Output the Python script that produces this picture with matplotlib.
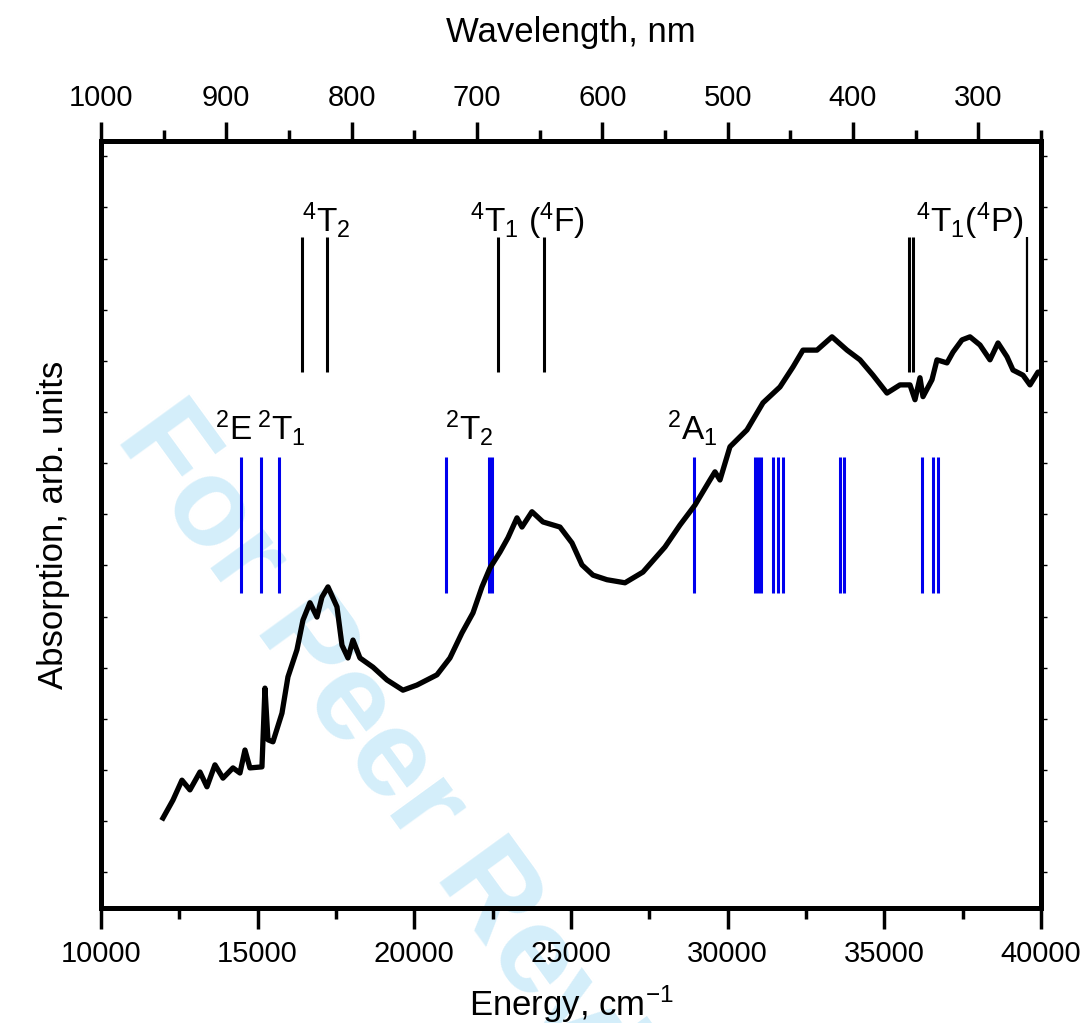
import numpy as np
from matplotlib import pyplot as plt

plt.rcParams['font.family'] = ['Liberation Sans', 'DejaVu Sans']
plt.rcParams['mathtext.default'] = 'regular'

# absorption spectrum (energy in cm^-1, arb. units)
energy = [11980, 12298, 12585, 12840, 13160, 13383, 13638, 13894, 14213, 14436,
          14596, 14755, 15138, 15234, 15330, 15489, 15777, 15968, 16255, 16447,
          16670, 16894, 17053, 17245, 17532, 17692, 17883, 18043, 18266, 18681,
          19128, 19638, 20085, 20723, 21138, 21521, 21872, 22160, 22415, 22734,
          22989, 23277, 23436, 23755, 24106, 24649, 25032, 25351, 25702, 26149,
          26723, 27298, 28000, 28479, 28958, 29436, 29596, 29755, 30074, 30617,
          31128, 31670, 32085, 32404, 32851, 33330, 33809, 34223, 34638, 35085,
          35500, 35819, 35979, 36138, 36234, 36521, 36681, 37000, 37191, 37479,
          37734, 38053, 38372, 38628, 38915, 39106, 39426, 39649, 39904, 40000]
absorb = [1.06, 1.41, 1.80, 1.61, 1.96, 1.67, 2.10, 1.84, 2.04, 1.94,
          2.39, 2.04, 2.06, 3.60, 2.59, 2.55, 3.11, 3.82, 4.35, 4.93,
          5.27, 4.99, 5.38, 5.58, 5.19, 4.44, 4.19, 4.54, 4.19, 4.01,
          3.76, 3.56, 3.66, 3.86, 4.19, 4.68, 5.07, 5.58, 5.95, 6.26,
          6.54, 6.93, 6.75, 7.05, 6.85, 6.75, 6.44, 6.01, 5.81, 5.72,
          5.66, 5.87, 6.36, 6.79, 7.18, 7.67, 7.83, 7.67, 8.32, 8.65,
          9.18, 9.49, 9.88, 10.21, 10.21, 10.47, 10.21, 10.02, 9.72, 9.37,
          9.53, 9.53, 9.24, 9.67, 9.30, 9.63, 10.02, 9.96, 10.17, 10.41,
          10.47, 10.31, 10.02, 10.35, 10.08, 9.82, 9.72, 9.53, 9.78, 9.78]

# calculated quartet levels (black) and doublet levels (blue), cm^-1
quartet_lines = [16415, 17213, 22670, 24138, 35800, 35910]
quartet_thin = [39550]
doublet_lines = [14468, 15106, 15681, 21011, 22383, 22479, 28926, 30873,
                 30968, 31064, 31447, 31607, 31766, 33585, 33713, 36202,
                 36553, 36713]

quartet_labels = [r'$^4$T$_2$', r'$^4$T$_1$ ($^4$F)', r'$^4$T$_1$($^4$P)']
quartet_label_x = [16415, 21777, 36011]
doublet_labels = [r'$^2$E', r'$^2$T$_1$', r'$^2$T$_2$', r'$^2$A$_1$']
doublet_label_x = [13638, 14979, 20979, 28064]

wl_major = [1000, 900, 800, 700, 600, 500, 400, 300]
wl_minor = [950, 850, 750, 650, 550, 450, 350, 250]

fig = plt.figure(figsize=(10.82, 10.23), dpi=100)
ax = fig.add_axes([0.0933, 0.1124, 0.8688, 0.7498])
ax.patch.set_visible(False)

# watermark behind everything
fig.text(0.106, 0.572, 'For Peer Review', rotation=-54, rotation_mode='anchor',
         ha='left', va='baseline', fontsize=90, fontweight='bold',
         color='#d4eefa', zorder=-5)

ax.plot(energy, absorb, color='black', lw=3.8, solid_joinstyle='round', zorder=3)

ax.vlines(quartet_lines, 9.78, 12.42, color='black', lw=2.2, zorder=2)
ax.vlines(quartet_thin, 9.78, 12.42, color='black', lw=1.6, zorder=2)
ax.vlines(doublet_lines, 5.46, 8.12, color='#0000ee', lw=2.2, zorder=2)

for lab, x in zip(quartet_labels, quartet_label_x):
    ax.text(x, 12.52, lab, fontsize=24, ha='left', va='baseline')
for lab, x in zip(doublet_labels, doublet_label_x):
    ax.text(x, 8.45, lab, fontsize=24, ha='left', va='baseline')

ax.set_xlim(10000, 40000)
ax.set_ylim(-0.7, 14.3)
ax.set_xticks(np.arange(10000, 40001, 5000))
ax.set_xticks(np.arange(12500, 40000, 5000), minor=True)
ax.set_yticks(np.arange(0, 15))
ax.tick_params(axis='x', which='major', direction='out', length=15, width=2.5,
               labelsize=21, pad=8)
ax.tick_params(axis='x', which='minor', direction='out', length=8, width=2.5)
ax.tick_params(axis='y', which='major', direction='in', length=4, width=1,
               labelleft=False)
for s in ax.spines.values():
    s.set_linewidth(3.6)

sec = ax.secondary_yaxis('right')
sec.set_yticks(np.arange(0, 15))
sec.tick_params(direction='out', length=4, width=1, labelright=False)
sec.spines['right'].set_linewidth(3.6)

ax.set_xlabel(r'Energy, cm$^{-1}$', fontsize=25, labelpad=11)
ax.set_ylabel('Absorption, arb. units', fontsize=25, labelpad=22)

top = ax.twiny()
top.set_xlim(1000, 250)
top.set_xticks(wl_major)
top.set_xticks(wl_minor, minor=True)
top.tick_params(axis='x', which='major', direction='out', length=14, width=2.5,
                labelsize=21, pad=7)
top.tick_params(axis='x', which='minor', direction='out', length=8, width=2.5)
for s in top.spines.values():
    s.set_linewidth(3.6)
top.set_xlabel('Wavelength, nm', fontsize=25, labelpad=30)

fig.savefig('out.png', dpi=100)
